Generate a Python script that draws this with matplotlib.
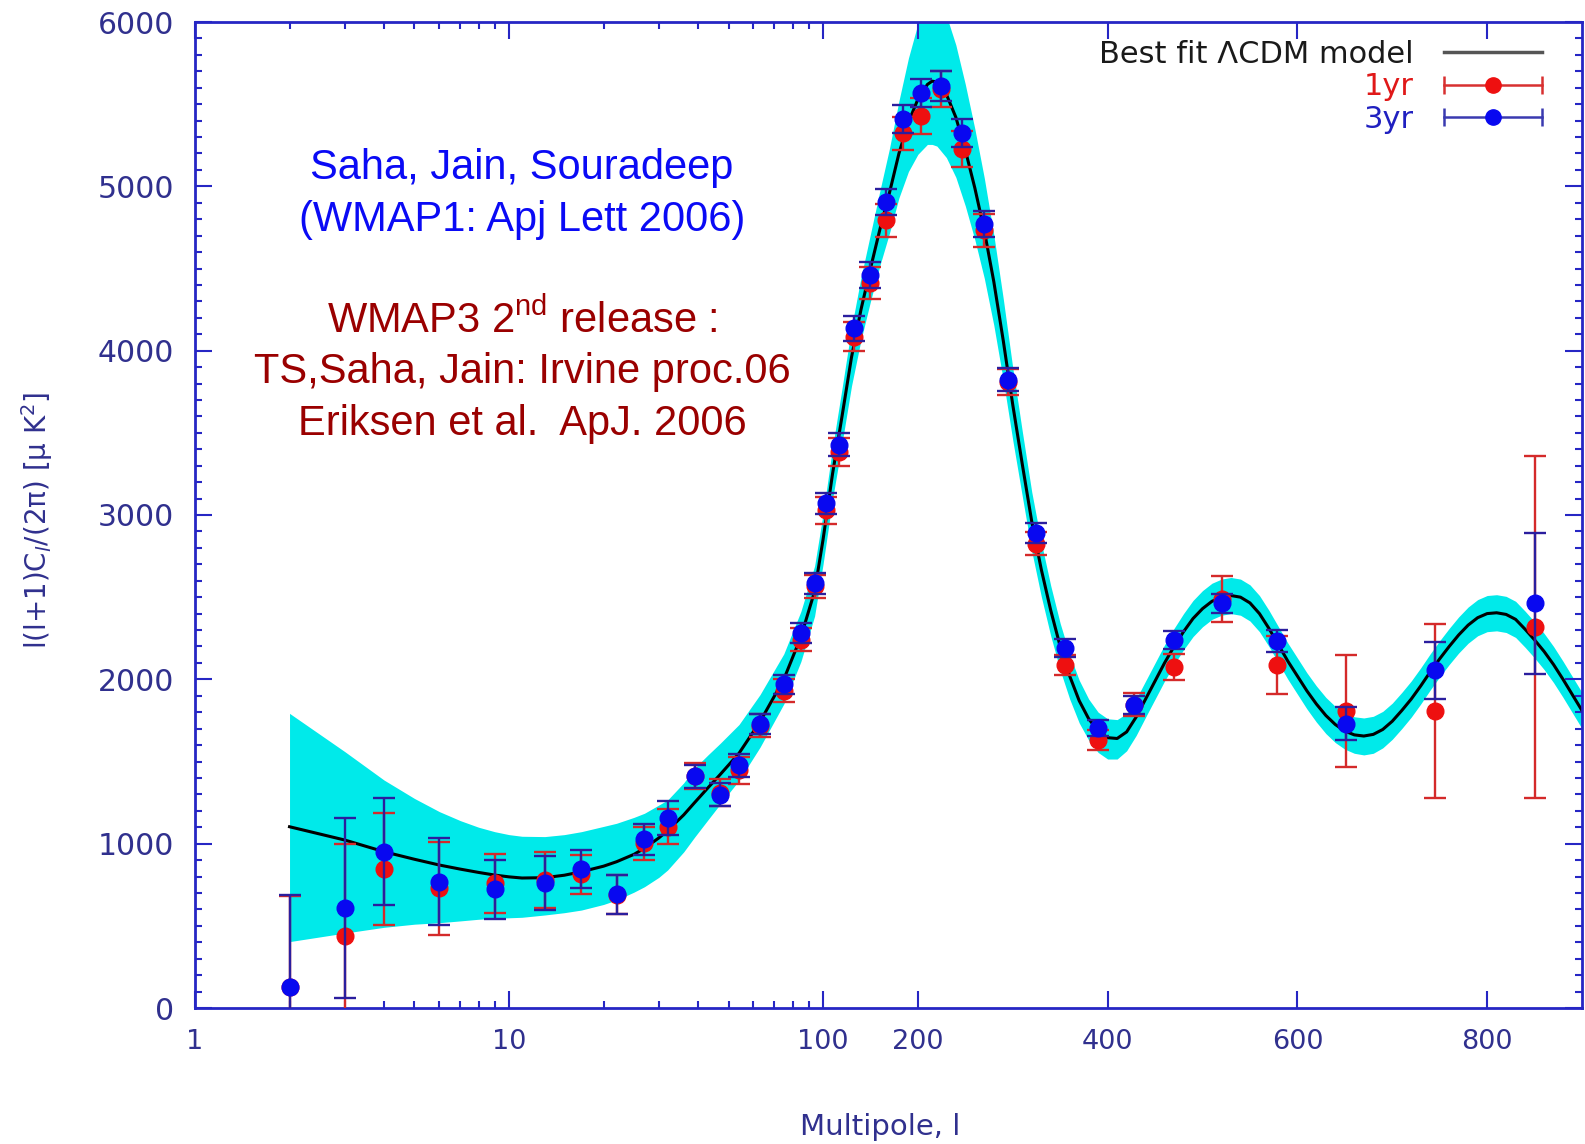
import numpy as np
import matplotlib
matplotlib.use("Agg")
import matplotlib.pyplot as plt
from matplotlib.lines import Line2D
from matplotlib.legend_handler import HandlerBase

# --- data ----------------------------------------------------------------
# best fit model curve
l_model = [2, 3, 4, 5, 6, 7, 8, 9, 10, 11, 13, 15, 17, 20, 22, 25, 27, 30,
           32, 36, 39, 43, 47, 54, 63, 75, 85, 94,
           100, 110, 120, 130, 140, 150, 160, 170, 180, 190, 200, 210, 215,
           220, 230, 240, 250, 260, 270, 280, 290, 300, 310, 320, 330, 340,
           350, 360, 370, 380, 390, 400, 410, 420, 430, 440, 450, 460, 470,
           480, 490, 500, 510, 520, 530, 540, 550, 560, 570, 580, 590, 600,
           610, 620, 630, 640, 650, 660, 670, 680, 690, 700, 710, 720, 730,
           740, 750, 760, 770, 780, 790, 800, 810, 820, 830, 840, 850, 860,
           870, 880, 890, 900]
cl_model = [1103, 1022, 951, 905, 870, 845, 825, 809, 798, 791, 793, 808,
            829, 863, 890, 935, 972, 1035, 1080, 1175, 1250, 1340, 1420,
            1550, 1742, 2000, 2258, 2535,
            2850, 3250, 3600, 3960, 4250, 4500, 4740, 4960, 5200, 5390, 5530,
            5620, 5640,
            5635, 5560, 5420, 5220, 4990, 4730, 4420, 4060, 3670, 3310, 2960,
            2670, 2420, 2200, 2020, 1870, 1760, 1685, 1645, 1640, 1680, 1770,
            1880, 1990, 2100, 2200, 2290, 2370, 2430, 2475, 2500, 2510, 2500,
            2465, 2400, 2310, 2210, 2110, 2020, 1930, 1850, 1780, 1725, 1685,
            1662, 1655, 1665, 1695, 1745, 1810, 1880, 1960, 2045, 2125, 2200,
            2270, 2330, 2375, 2400, 2405, 2395, 2365, 2305, 2240, 2170, 2090,
            2000, 1905, 1810]
# cyan band: distance below / above the model
band_dn = [699, 566, 460, 395, 351, 315, 285, 263, 249, 239, 227, 228, 233,
           233, 233, 230, 234, 240, 240, 225, 210, 195, 180, 165, 155, 150,
           150, 150,
           150, 155, 165, 175, 185, 200, 220, 245, 270, 300, 335, 365, 385,
           390, 385, 365, 340, 315, 290, 265, 240, 215, 195, 180, 165, 155,
           145, 140, 135, 130, 130, 130, 125, 115, 112, 110, 110, 110, 110,
           110, 110, 110, 110, 110, 110, 110, 110, 110, 110, 110, 110, 110,
           110, 110, 110, 110, 110, 112, 115, 115, 112, 110, 110, 110, 110,
           110, 110, 110, 110, 110, 110, 110, 110, 110, 110, 110, 110, 110,
           110, 110, 110, 110]
band_up = [690, 538, 436, 370, 325, 295, 275, 264, 257, 254, 250, 247, 244,
           242, 234, 225, 213, 200, 186, 195, 210, 200, 190, 175, 165, 155,
           155, 155,
           155, 160, 170, 180, 195, 210, 235, 270, 320, 390, 460, 500, 510,
           510, 480, 440, 400, 360, 320, 285, 255, 225, 200, 180, 165, 150,
           140, 130, 125, 120, 115, 115, 115, 112, 110, 110, 110, 110, 110,
           110, 110, 110, 110, 110, 110, 110, 110, 110, 110, 110, 110, 110,
           110, 110, 110, 110, 110, 110, 110, 110, 110, 110, 110, 110, 110,
           110, 110, 110, 110, 110, 110, 110, 110, 110, 110, 110, 110, 110,
           110, 110, 110, 110]

# binned spectra: WMAP 3yr (blue) and 1yr (red)
l_bins = [2, 3, 4, 6, 9, 13, 17, 22, 27, 32, 39, 47, 54, 63, 75, 85, 94, 103,
          117, 133, 149, 166, 184, 203, 224, 246, 270, 295, 324, 355, 390,
          428, 470, 521, 578, 651, 745, 850]
cl_3yr = [130, 607, 951, 769, 722, 759, 846, 692, 1026, 1154, 1409, 1298,
          1477, 1729, 1969, 2283, 2585, 3071, 3428, 4135, 4462, 4905, 5409,
          5569, 5612, 5323, 4769, 3822, 2892, 2191, 1705, 1846, 2240, 2462,
          2234, 1729, 2055, 2462]
err_3yr = [558, 547, 325, 265, 178, 165, 113, 118, 96, 104, 70, 70, 70, 60,
           60, 60, 65, 65, 70, 75, 80, 80, 85, 85, 90, 85, 80, 70, 60, 55, 50,
           55, 55, 60, 65, 100, 175, 430]
cl_1yr = [125, 438, 846, 728, 759, 779, 813, 690, 1002, 1103, 1410, 1311,
          1446, 1717, 1932, 2240, 2566, 3028, 3385, 4086, 4412, 4794, 5323,
          5428, 5590, 5225, 4732, 3809, 2825, 2086, 1631, 1846, 2074, 2486,
          2086, 1809, 1809, 2320]
err_1yr = [558, 560, 338, 285, 180, 170, 120, 120, 100, 105, 80, 80, 80, 70,
           70, 70, 70, 80, 85, 90, 100, 100, 100, 110, 110, 110, 100, 80, 70,
           60, 60, 70, 80, 140, 175, 340, 530, 1040]

x_major = [1, 10, 100, 200, 400, 600, 800]
x_minor = [2, 3, 4, 5, 6, 7, 8, 9, 20, 30, 40, 50, 60, 70, 80, 90]

# x axis: log up to l=100, linear above
LIN = 331.0


def fwd(x):
    x = np.asarray(x, dtype=float)
    lg = np.log10(np.clip(x, 1e-6, None))
    return np.where(x <= 100, lg, 2 + (x - 100) / LIN)


def inv(u):
    u = np.asarray(u, dtype=float)
    return np.where(u <= 2, 10 ** np.minimum(u, 2), 100 + (u - 2) * LIN)


class HorizErrHandler(HandlerBase):
    # gnuplot style key: horizontal bar with end caps and a dot
    def create_artists(self, legend, orig_handle, xdescent, ydescent,
                       width, height, fontsize, trans):
        c = orig_handle.get_color()
        mc = orig_handle.get_markerfacecolor()
        y0 = height / 2 - ydescent
        x0, x1 = -xdescent, width - xdescent
        bar = Line2D([x0, x1], [y0, y0], color=c, lw=1.8)
        caps = Line2D([x0, x1], [y0, y0], ls='none', marker='|', ms=13,
                      mew=1.8, color=c)
        dot = Line2D([(x0 + x1) / 2], [y0], ls='none', marker='o', ms=11,
                     color=mc)
        for a in (bar, caps, dot):
            a.set_transform(trans)
        return [bar, caps, dot]


plt.rcParams['font.family'] = ['DejaVu Sans']
plt.rcParams['mathtext.fontset'] = 'custom'
plt.rcParams['mathtext.rm'] = 'Liberation Sans'

axis_col = '#2626c4'
lab_col = '#30308e'

lo = np.array(cl_model) - np.array(band_dn)
hi = np.array(cl_model) + np.array(band_up)

fig = plt.figure(figsize=(15.85, 11.44), dpi=100)
ax = fig.add_axes([195 / 1585, 136 / 1144, 1387 / 1585, 986 / 1144])
ax.set_xscale('function', functions=(fwd, inv))

ax.fill_between(l_model, lo, hi, color='#00eaea', lw=0, zorder=1)
ax.plot(l_model, cl_model, color='black', lw=2.2, zorder=2)

ax.errorbar(l_bins, cl_1yr, yerr=err_1yr, fmt='o', ms=12, color='#ee1010',
            ecolor='#d42a2a', elinewidth=1.7, capsize=8, capthick=1.7,
            zorder=3)
ax.errorbar(l_bins, cl_3yr, yerr=err_3yr, fmt='o', ms=12, color='#0808f0',
            ecolor='#2b1e9e', elinewidth=1.7, capsize=8, capthick=1.7,
            zorder=4)

ax.set_xlim(1, 900)
ax.set_ylim(0, 6000)
ax.set_xticks(x_major)
ax.set_xticklabels([str(v) for v in x_major])
ax.set_xticks(x_minor, minor=True)
ax.set_yticks(np.arange(0, 6001, 1000))
ax.set_yticks(np.arange(0, 6001, 100), minor=True)

ax.tick_params(which='both', direction='in', top=True, right=True,
               color=axis_col, labelcolor=lab_col, pad=15)
ax.tick_params(axis='x', labelsize=19.5)
ax.tick_params(axis='y', labelsize=21.5)
ax.tick_params(which='major', length=12, width=1.5)
ax.tick_params(which='minor', length=5, width=1.5)
for s in ax.spines.values():
    s.set_color(axis_col)
    s.set_linewidth(2)

ax.set_xlabel('Multipole, l', fontsize=21, color=lab_col)
ax.xaxis.set_label_coords(0.494, -0.106)
ax.set_ylabel('l(l+1)C$_l$/(2π) [μ K$^2$]', fontsize=20, color=lab_col,
              math_fontfamily='dejavusans')
ax.yaxis.set_label_coords(-0.101, 0.495)

# text blocks
blue_lines = ['Saha, Jain, Souradeep', '(WMAP1: Apj Lett 2006)']
red_lines = ['WMAP3 2$^{\\mathrm{nd}}$ release :',
             'TS,Saha, Jain: Irvine proc.06',
             'Eriksen et al.  ApJ. 2006']
for txt, yy in zip(blue_lines, [0.852, 0.799]):
    ax.text(0.2358, yy, txt, transform=ax.transAxes, ha='center',
            va='center', color='#0a0af5', fontsize=30,
            family='Liberation Sans')
for txt, yy in zip(red_lines, [0.697, 0.645, 0.592]):
    ax.text(0.2358, yy, txt, transform=ax.transAxes, ha='center',
            va='center', color='#9a0000', fontsize=30,
            family='Liberation Sans')

# key
h_model = Line2D([], [], color='#555555', lw=2.5)
h_1yr = Line2D([], [], color='#d83030', markerfacecolor='#ee1010')
h_3yr = Line2D([], [], color='#3a3ab0', markerfacecolor='#0808f0')
leg = ax.legend([h_model, h_1yr, h_3yr],
                ['Best fit ΛCDM model', '1yr', '3yr'],
                handler_map={h_1yr: HorizErrHandler(), h_3yr: HorizErrHandler()},
                loc='upper right', bbox_to_anchor=(0.971, 0.982),
                frameon=False, markerfirst=False, fontsize=22,
                handlelength=3.2, handletextpad=1.0, labelspacing=0.12,
                borderpad=0, borderaxespad=0,
                labelcolor=['#1a1a1a', '#e01818', '#2020c0'])

fig.savefig('out.png', dpi=100, facecolor='white')
